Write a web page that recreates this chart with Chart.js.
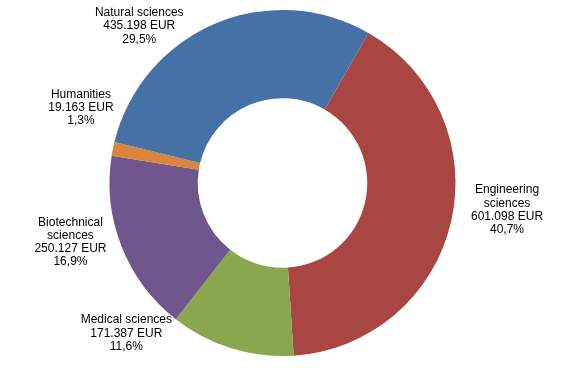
<!DOCTYPE html>
<html>
<head>
<meta charset="utf-8">
<script src="https://cdn.jsdelivr.net/npm/chart.js@4.4.0/dist/chart.umd.min.js"></script>
<style>
    html, body { margin: 0; padding: 0; background: #ffffff; }
    #wrap { width: 565px; height: 373px; }
</style>
</head>
<body>
<div id="wrap"><canvas id="fundingChart" width="565" height="373"></canvas></div>
<script>
// Funding by field of science (EUR)
const categories = ['Engineering sciences', 'Medical sciences', 'Biotechnical sciences', 'Humanities', 'Natural sciences'];
const labelLines = [['Engineering', 'sciences'], ['Medical sciences'], ['Biotechnical', 'sciences'], ['Humanities'], ['Natural sciences']];
const amounts = [601098, 171387, 250127, 19163, 435198];
const sliceColors = ['#A94543', '#8AA64E', '#6F568D', '#DB843D', '#4571A6'];

// label nudges relative to the outer edge at each slice's mid angle
const labelOffsets = [[56, -12], [-105, -15], [-51, -4], [-32, -41], [-75, 2]];

function formatEur(v) {
    return String(v).replace(/\B(?=(\d{3})+(?!\d))/g, '.') + ' EUR';
}

const total = amounts.reduce((a, b) => a + b, 0);

const sliceLabels = {
    id: 'sliceLabels',
    afterDatasetsDraw(chart) {
        const ctx = chart.ctx;
        const meta = chart.getDatasetMeta(0);
        ctx.save();
        ctx.font = '12px "Liberation Sans", Arial, sans-serif';
        ctx.fillStyle = '#000000';
        ctx.textAlign = 'center';
        ctx.textBaseline = 'middle';
        const lineH = 13.3;
        meta.data.forEach((arc, i) => {
            const mid = (arc.startAngle + arc.endAngle) / 2;
            const ax = arc.x + Math.cos(mid) * arc.outerRadius + labelOffsets[i][0];
            const ay = arc.y + Math.sin(mid) * arc.outerRadius + labelOffsets[i][1];
            const pct = (amounts[i] / total * 100).toFixed(1).replace('.', ',') + '%';
            const lines = labelLines[i].concat([formatEur(amounts[i]), pct]);
            const top = ay - (lines.length - 1) * lineH / 2;
            lines.forEach((t, k) => ctx.fillText(t, ax, top + k * lineH));
        });
        ctx.restore();
    }
};

new Chart(document.getElementById('fundingChart'), {
    type: 'doughnut',
    data: {
        labels: categories,
        datasets: [{
            data: amounts,
            backgroundColor: sliceColors,
            borderWidth: 0
        }]
    },
    options: {
        responsive: false,
        animation: false,
        rotation: 29.8,
        cutout: '49%',
        layout: { padding: { top: 10, bottom: 17, left: 0, right: 0 } },
        plugins: {
            legend: { display: false },
            tooltip: { enabled: false }
        }
    },
    plugins: [sliceLabels]
});
</script>
</body>
</html>
